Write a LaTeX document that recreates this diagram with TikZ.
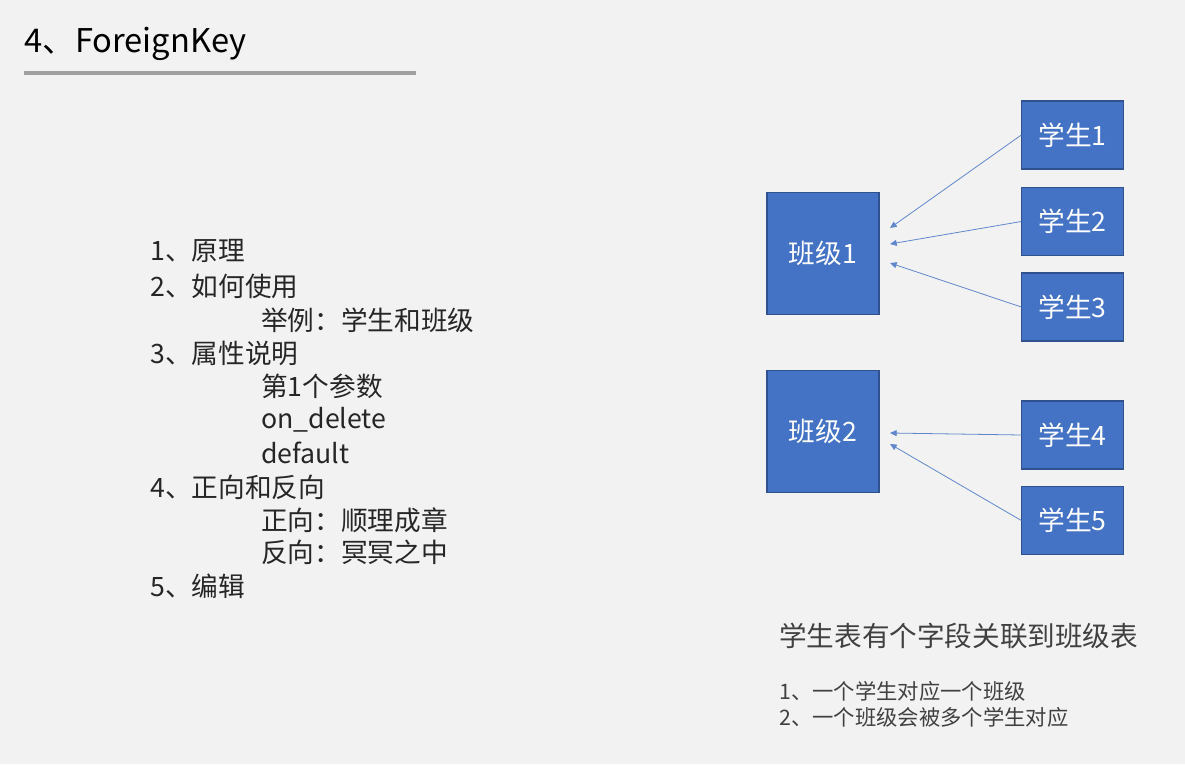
\documentclass[tikz,border=0pt]{standalone}
\usepackage{fontspec}
\setmainfont{Noto Sans CJK SC}
\usepackage{tikz}
\usepackage{xcolor}
\usetikzlibrary{arrows.meta, positioning, calc}
\definecolor{cBg}{RGB}{242,242,242}
\definecolor{cRule}{RGB}{160,160,160}
\definecolor{cBox}{RGB}{68,114,196}
\definecolor{cEdge}{RGB}{47,82,143}
\definecolor{cText}{RGB}{38,38,38}
\definecolor{cNote}{RGB}{64,64,64}
\tikzset{
	title/.style   ={anchor=west, font=\fontsize{24.5}{28}\selectfont, text=black, inner sep=0pt},
	item/.style    ={anchor=west, font=\fontsize{20}{24}\selectfont, text=cText, inner sep=0pt},
	note/.style    ={anchor=west, font=\fontsize{16}{19}\selectfont, text=cNote, inner sep=0pt},
	classbox/.style={rectangle, draw=cEdge, line width=0.8pt, fill=cBox, text=white, minimum width=84pt, minimum height=91pt, font=\fontsize{20}{24}\selectfont},
	stubox/.style  ={rectangle, draw=cEdge, line width=0.8pt, fill=cBox, text=white, minimum width=76pt, minimum height=51pt, font=\fontsize{20}{24}\selectfont},
	fk/.style      ={-{Triangle[length=5pt, width=4.5pt]}, draw=cBox!85, line width=0.6pt},
}
\begin{document}
\begin{tikzpicture}[x=0.75pt, y=-0.75pt]
	\fill[cBg] (0,0) rectangle (1185,764);
	\useasboundingbox (0,0) rectangle (1185,764);
	% title
	\node[title] (ttl) at (24,44) {4、ForeignKey};
	\draw[cRule, line width=2.6pt] (24,73) -- (416,73);
	% outline on the left
	\node[item] (i1)  at (150,251) {1、原理};
	\node[item] (i2)  at (150,286) {2、如何使用};
	\node[item] (i2a) at (261,320) {举例：学生和班级};
	\node[item] (i3)  at (150,353) {3、属性说明};
	\node[item] (i3a) at (261,386) {第1个参数};
	\node[item] (i3b) at (261,420) {on\_delete};
	\node[item] (i3c) at (261,453) {default};
	\node[item] (i4)  at (150,487) {4、正向和反向};
	\node[item] (i4a) at (261,520) {正向：顺理成章};
	\node[item] (i4b) at (261,552) {反向：冥冥之中};
	\node[item] (i5)  at (150,586) {5、编辑};
	% classes and students
	\node[classbox] (cls1) at (823,253.5) {班级1};
	\node[classbox] (cls2) at (823,431.5) {班级2};
	\node[stubox] (stu1) at (1072.5,135) {学生1};
	\node[stubox] (stu2) at (1072.5,221.5) {学生2};
	\node[stubox] (stu3) at (1072.5,307) {学生3};
	\node[stubox] (stu4) at (1072.5,435) {学生4};
	\node[stubox] (stu5) at (1072.5,520.5) {学生5};
	\coordinate (tip1) at (890,228);
	\coordinate (tip2) at (890,244);
	\coordinate (tip3) at (890,263);
	\coordinate (tip4) at (890,433);
	\coordinate (tip5) at (890,444);
	\foreach \k in {1,...,5}
		\draw[fk] (stu\k.west) -- (tip\k);
	% notes
	\node[item, text=cNote, font=\fontsize{20.7}{24}\selectfont] (sum) at (779,636) {学生表有个字段关联到班级表};
	\node[note] (n1) at (779,691) {1、一个学生对应一个班级};
	\node[note] (n2) at (779,717) {2、一个班级会被多个学生对应};
\end{tikzpicture}
\end{document}
